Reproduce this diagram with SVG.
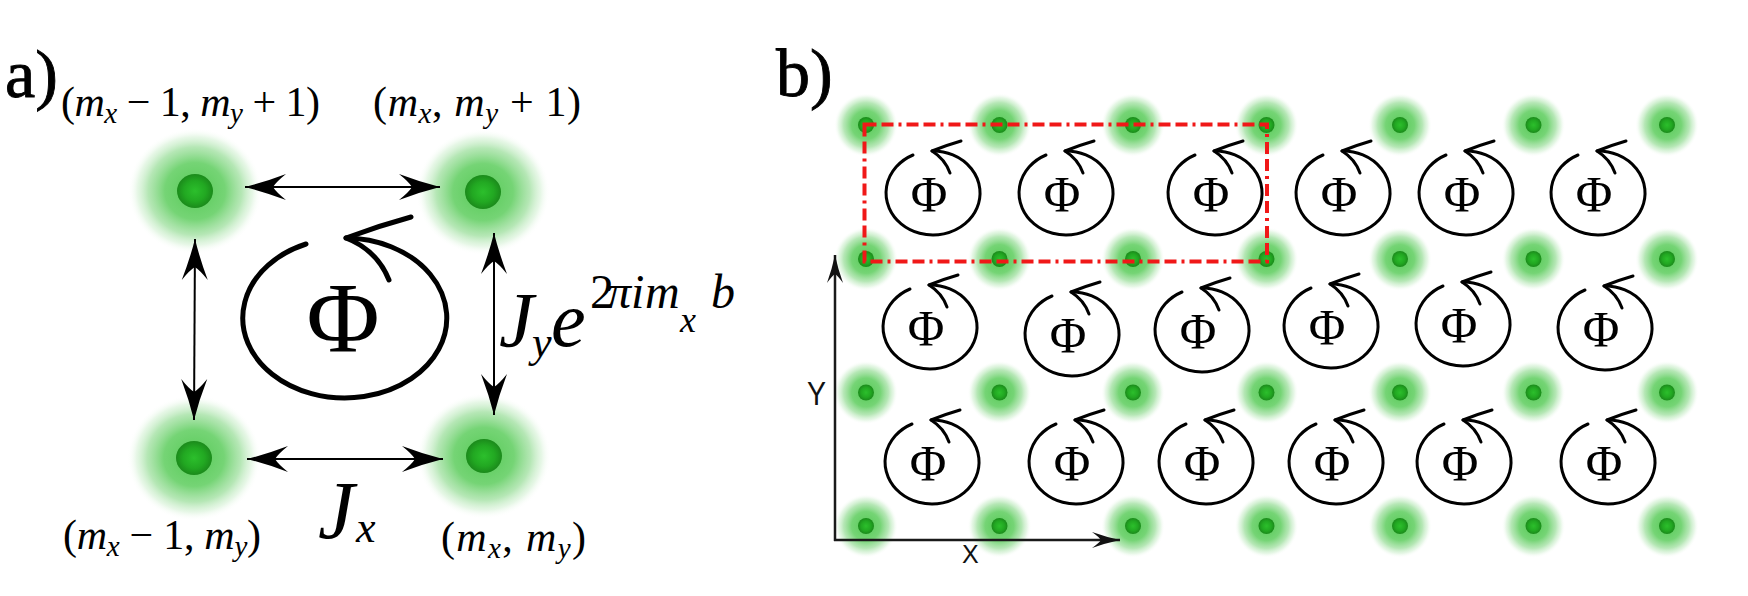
<svg xmlns="http://www.w3.org/2000/svg" width="1748" height="596" viewBox="0 0 1748 596">
<style>
.lbl{font-family:"Liberation Serif","Times New Roman",serif;fill:#000}
.it{font-style:italic}
.hd{stroke:#000;stroke-width:0.9}
.shaft{stroke:#000;stroke-width:2;fill:none}
.loopA{stroke:#000;stroke-width:5;fill:none;stroke-linecap:round}
.loopB{stroke:#000;stroke-width:3;fill:none;stroke-linecap:round}
.axis{stroke:#1a1a1a;stroke-width:2.5;fill:none}
.ax{font-family:"Liberation Sans","DejaVu Sans",sans-serif;fill:#111}
.phiS{font-family:"Liberation Serif","Times New Roman",serif;font-size:50px;text-anchor:middle;fill:#000}
.box{fill:none;stroke:#f01818;stroke-width:4;stroke-dasharray:12 5 12 5 3 5}
</style>
<defs>
<radialGradient id="glow">
<stop offset="0" stop-color="#56ca56"/>
<stop offset="0.45" stop-color="#6ed26e" stop-opacity="0.95"/>
<stop offset="0.7" stop-color="#9ddf9d" stop-opacity="0.75"/>
<stop offset="0.86" stop-color="#c8edc8" stop-opacity="0.45"/>
<stop offset="1" stop-color="#ffffff" stop-opacity="0"/>
</radialGradient>
<radialGradient id="dot">
<stop offset="0" stop-color="#2cbf2c"/>
<stop offset="0.6" stop-color="#22a822"/>
<stop offset="1" stop-color="#1b8a1b"/>
</radialGradient>
<marker id="ahA" viewBox="-44 -16 46 32" refX="0" refY="0" markerWidth="46" markerHeight="32" markerUnits="userSpaceOnUse" orient="auto-start-reverse">
<path d="M0,0 Q-20,-5 -41,-13 Q-31,-5 -28,0 Q-31,5 -41,13 Q-20,5 0,0 Z" fill="#000"/>
</marker>
<marker id="ahB" viewBox="-30 -10 32 20" refX="0" refY="0" markerWidth="32" markerHeight="20" markerUnits="userSpaceOnUse" orient="auto">
<path d="M0,0 Q-14,-3 -28,-8 Q-21,-3 -19,0 Q-21,3 -28,8 Q-14,3 0,0 Z" fill="#111"/>
</marker>
<g id="sloop">
<path class="loopB" d="M -19 -38 A 47 42 0 1 0 0 -42"/>
<path class="loopB" d="M 0 -42 Q 15 -48 29 -52 M 0 -42 Q 13 -34 18 -20"/>
</g>
<g id="sdot"><circle r="32" fill="url(#glow)"/><circle r="8" fill="url(#dot)"/></g>
</defs>
<rect width="1748" height="596" fill="#fff"/>

<!-- panel a -->
<text class="lbl hd" x="5" y="97" font-size="68">a)</text>
<g id="a-node-tl"><ellipse cx="195" cy="191" rx="67" ry="63" fill="url(#glow)"/><ellipse cx="195" cy="191" rx="18" ry="17" fill="url(#dot)"/></g>
<g id="a-node-tr"><ellipse cx="483" cy="192" rx="67" ry="63" fill="url(#glow)"/><ellipse cx="483" cy="192" rx="18" ry="17" fill="url(#dot)"/></g>
<g id="a-node-bl"><ellipse cx="194" cy="458" rx="67" ry="63" fill="url(#glow)"/><ellipse cx="194" cy="458" rx="18" ry="17" fill="url(#dot)"/></g>
<g id="a-node-br"><ellipse cx="484" cy="456" rx="67" ry="63" fill="url(#glow)"/><ellipse cx="484" cy="456" rx="18" ry="17" fill="url(#dot)"/></g>

<text class="lbl" x="61" y="116" font-size="42" textLength="259" lengthAdjust="spacing">(<tspan class="it">m</tspan><tspan class="it" font-size="29" dy="7">x</tspan><tspan dy="-7"> − 1, </tspan><tspan class="it">m</tspan><tspan class="it" font-size="29" dy="7">y</tspan><tspan dy="-7"> + 1)</tspan></text>
<text class="lbl" x="373" y="116" font-size="42" textLength="208" lengthAdjust="spacing">(<tspan class="it">m</tspan><tspan class="it" font-size="29" dy="7">x</tspan><tspan dy="-7">, </tspan><tspan class="it">m</tspan><tspan class="it" font-size="29" dy="7">y</tspan><tspan dy="-7"> + 1)</tspan></text>
<text class="lbl" x="63" y="549" font-size="42" textLength="198" lengthAdjust="spacing">(<tspan class="it">m</tspan><tspan class="it" font-size="29" dy="7">x</tspan><tspan dy="-7"> − 1, </tspan><tspan class="it">m</tspan><tspan class="it" font-size="29" dy="7">y</tspan><tspan dy="-7">)</tspan></text>
<text class="lbl" x="441" y="551" font-size="42" textLength="145" lengthAdjust="spacing">(<tspan class="it">m</tspan><tspan class="it" font-size="29" dy="7">x</tspan><tspan dy="-7">, </tspan><tspan class="it">m</tspan><tspan class="it" font-size="29" dy="7">y</tspan><tspan dy="-7">)</tspan></text>

<g id="a-loop">
<path class="loopA" d="M 306 244 A 102 80 0 1 0 346 238"/>
<path class="loopA" d="M 346 238 Q 378 226 411 217 M 346 238 Q 377 250 389 280"/>
<text class="lbl" x="343" y="351" font-size="100" text-anchor="middle">Φ</text>
</g>

<text class="lbl" font-size="78"><tspan class="it" x="499" y="346">J</tspan><tspan class="it" x="532" y="357" font-size="44">y</tspan><tspan class="it" x="551" y="346">e</tspan><tspan x="590" y="308" font-size="48">2</tspan><tspan class="it" x="607" y="308" font-size="48">π</tspan><tspan class="it" x="631" y="308" font-size="48">i</tspan><tspan class="it" x="645" y="308" font-size="48">m</tspan><tspan class="it" x="680" y="332" font-size="36">x</tspan><tspan class="it" x="711" y="308" font-size="48">b</tspan></text>
<text class="lbl" font-size="82"><tspan class="it" x="318" y="538">J</tspan><tspan class="it" x="356" y="542" font-size="44">x</tspan></text>

<!-- panel b -->
<text class="lbl hd" x="776" y="96" font-size="68">b)</text>
<g id="b-nodes">
<g id="d11"><use href="#sdot" x="866" y="125"/></g><g id="d12"><use href="#sdot" x="999.5" y="125"/></g><g id="d13"><use href="#sdot" x="1133" y="125"/></g><g id="d14"><use href="#sdot" x="1266.5" y="125"/></g><g id="d15"><use href="#sdot" x="1400" y="125"/></g><g id="d16"><use href="#sdot" x="1533.5" y="125"/></g><g id="d17"><use href="#sdot" x="1667" y="125"/></g>
<g id="d21"><use href="#sdot" x="866" y="259"/></g><g id="d22"><use href="#sdot" x="999.5" y="259"/></g><g id="d23"><use href="#sdot" x="1133" y="259"/></g><g id="d24"><use href="#sdot" x="1266.5" y="259"/></g><g id="d25"><use href="#sdot" x="1400" y="259"/></g><g id="d26"><use href="#sdot" x="1533.5" y="259"/></g><g id="d27"><use href="#sdot" x="1667" y="259"/></g>
<g id="d31"><use href="#sdot" x="866" y="392.5"/></g><g id="d32"><use href="#sdot" x="999.5" y="392.5"/></g><g id="d33"><use href="#sdot" x="1133" y="392.5"/></g><g id="d34"><use href="#sdot" x="1266.5" y="392.5"/></g><g id="d35"><use href="#sdot" x="1400" y="392.5"/></g><g id="d36"><use href="#sdot" x="1533.5" y="392.5"/></g><g id="d37"><use href="#sdot" x="1667" y="392.5"/></g>
<g id="d41"><use href="#sdot" x="866" y="526"/></g><g id="d42"><use href="#sdot" x="999.5" y="526"/></g><g id="d43"><use href="#sdot" x="1133" y="526"/></g><g id="d44"><use href="#sdot" x="1266.5" y="526"/></g><g id="d45"><use href="#sdot" x="1400" y="526"/></g><g id="d46"><use href="#sdot" x="1533.5" y="526"/></g><g id="d47"><use href="#sdot" x="1667" y="526"/></g>
</g>

<g id="b-loops">
<g id="l11"><use href="#sloop" x="932" y="193"/><text class="phiS" x="929" y="211">Φ</text></g>
<g id="l12"><use href="#sloop" x="1065" y="193"/><text class="phiS" x="1062" y="211">Φ</text></g>
<g id="l13"><use href="#sloop" x="1214" y="193"/><text class="phiS" x="1211" y="211">Φ</text></g>
<g id="l14"><use href="#sloop" x="1342" y="193"/><text class="phiS" x="1339" y="211">Φ</text></g>
<g id="l15"><use href="#sloop" x="1465" y="193"/><text class="phiS" x="1462" y="211">Φ</text></g>
<g id="l16"><use href="#sloop" x="1597" y="193"/><text class="phiS" x="1594" y="211">Φ</text></g>
<g id="l21"><use href="#sloop" x="929" y="327"/><text class="phiS" x="926" y="345">Φ</text></g>
<g id="l22"><use href="#sloop" x="1071" y="334"/><text class="phiS" x="1068" y="352">Φ</text></g>
<g id="l23"><use href="#sloop" x="1201" y="330"/><text class="phiS" x="1198" y="348">Φ</text></g>
<g id="l24"><use href="#sloop" x="1330" y="326"/><text class="phiS" x="1327" y="344">Φ</text></g>
<g id="l25"><use href="#sloop" x="1462" y="324"/><text class="phiS" x="1459" y="342">Φ</text></g>
<g id="l26"><use href="#sloop" x="1604" y="328"/><text class="phiS" x="1601" y="346">Φ</text></g>
<g id="l31"><use href="#sloop" x="931" y="462"/><text class="phiS" x="928" y="480">Φ</text></g>
<g id="l32"><use href="#sloop" x="1075" y="462"/><text class="phiS" x="1072" y="480">Φ</text></g>
<g id="l33"><use href="#sloop" x="1205" y="462"/><text class="phiS" x="1202" y="480">Φ</text></g>
<g id="l34"><use href="#sloop" x="1335" y="462"/><text class="phiS" x="1332" y="480">Φ</text></g>
<g id="l35"><use href="#sloop" x="1463" y="462"/><text class="phiS" x="1460" y="480">Φ</text></g>
<g id="l36"><use href="#sloop" x="1607" y="462"/><text class="phiS" x="1604" y="480">Φ</text></g>
</g>

<rect id="unit-cell" class="box" x="864.5" y="124.5" width="402.5" height="137"/>

<g id="connectors">
<line class="shaft" x1="245" y1="187" x2="440" y2="187" marker-start="url(#ahA)" marker-end="url(#ahA)"/>
<line class="shaft" x1="247" y1="459" x2="443" y2="459" marker-start="url(#ahA)" marker-end="url(#ahA)"/>
<line class="shaft" x1="195" y1="239" x2="194" y2="420" marker-start="url(#ahA)" marker-end="url(#ahA)"/>
<line class="shaft" x1="494" y1="233" x2="494" y2="415" marker-start="url(#ahA)" marker-end="url(#ahA)"/>
<line class="axis" x1="835" y1="541" x2="835" y2="255" marker-end="url(#ahB)"/>
<line class="axis" x1="834" y1="540" x2="1120" y2="540" marker-end="url(#ahB)"/>
</g>
<text class="ax" x="807" y="405" font-size="34" textLength="19" lengthAdjust="spacingAndGlyphs">Y</text>
<text class="ax" x="962" y="563" font-size="25">X</text>
</svg>
